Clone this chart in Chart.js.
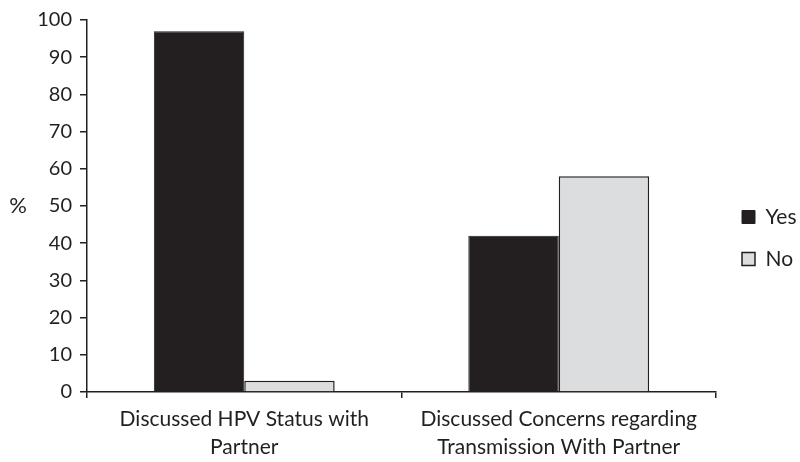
<!DOCTYPE html>
<html>
<head>
<meta charset="utf-8">
<script src="https://cdn.jsdelivr.net/npm/chart.js@4.4.1/dist/chart.umd.min.js"></script>
<style>
  html, body { margin: 0; padding: 0; background: #fff; }
  .chart-wrap { position: relative; width: 800px; height: 462px; }
</style>
</head>
<body>
<div class="chart-wrap"><canvas id="hpvChart"></canvas></div>
<script>
const categories = [
  ['Discussed HPV Status with', 'Partner'],
  ['Discussed Concerns regarding', 'Transmission With Partner'],
];
const yesValues = [97, 42];
const noValues = [3, 58];
const yTicks = [0, 10, 20, 30, 40, 50, 60, 70, 80, 90, 100];

const INK = '#231f20';
const FONT = 'Lato, "Open Sans", sans-serif';

// draws the upright "%" axis label left of the ticks
const percentLabel = {
  id: 'percentLabel',
  afterDraw(chart) {
    const { ctx, chartArea } = chart;
    ctx.save();
    ctx.font = `22px ${FONT}`;
    ctx.fillStyle = INK;
    ctx.textAlign = 'center';
    ctx.textBaseline = 'middle';
    ctx.fillText('%', 18, (chartArea.top + chartArea.bottom) / 2);
    ctx.restore();
  },
};

// narrow legend column so the plot reaches x=716, then nudge the legend right
const legendWidth = {
  id: 'legendWidth',
  beforeLayout(chart) {
    const lg = chart.legend;
    if (!lg || lg._fixedWidth) return;
    const fit = lg.fit.bind(lg);
    lg.fit = function () {
      fit();
      this.width = 84;
    };
    lg._fixedWidth = true;
  },
  afterLayout(chart) {
    const lg = chart.legend;
    if (!lg) return;
    lg.left += 5;
    lg.right += 5;
  },
};

new Chart(document.getElementById('hpvChart'), {
  type: 'bar',
  data: {
    labels: categories,
    datasets: [
      {
        label: 'Yes',
        data: yesValues,
        backgroundColor: INK,
        borderColor: INK,
        borderWidth: 1,
      },
      {
        label: 'No',
        data: noValues,
        backgroundColor: '#dcdddf',
        borderColor: INK,
        borderWidth: 1.5,
      },
    ],
  },
  options: {
    responsive: true,
    maintainAspectRatio: false,
    animation: false,
    categoryPercentage: 0.575,
    barPercentage: 1,
    layout: { padding: { top: 14, right: 0, left: 0, bottom: 0 } },
    plugins: {
      legend: {
        position: 'right',
        align: 'center',
        labels: {
          color: INK,
          font: { family: FONT, size: 21 },
          boxWidth: 13,
          boxHeight: 13,
          padding: 21,
        },
      },
      tooltip: { enabled: false },
    },
    scales: {
      x: {
        afterFit(scale) { scale.height = 70; },
        border: { color: INK, width: 1.5 },
        grid: {
          display: true,
          drawOnChartArea: false,
          offset: true,
          color: INK,
          lineWidth: 1.5,
          tickLength: 6,
        },
        ticks: {
          color: INK,
          padding: 7,
          maxRotation: 0,
          font: { family: FONT, size: 21, lineHeight: 1.33 },
        },
      },
      y: {
        min: 0,
        max: 100,
        afterFit(scale) { scale.width = 87; },
        afterBuildTicks(scale) { scale.ticks = yTicks.map((v) => ({ value: v })); },
        border: { color: INK, width: 1.5 },
        grid: {
          display: true,
          drawOnChartArea: false,
          color: INK,
          lineWidth: 1.5,
          tickLength: 7,
        },
        ticks: {
          color: INK,
          padding: 8,
          font: { family: FONT, size: 20 },
        },
      },
    },
  },
  plugins: [percentLabel, legendWidth],
});
</script>
</body>
</html>
